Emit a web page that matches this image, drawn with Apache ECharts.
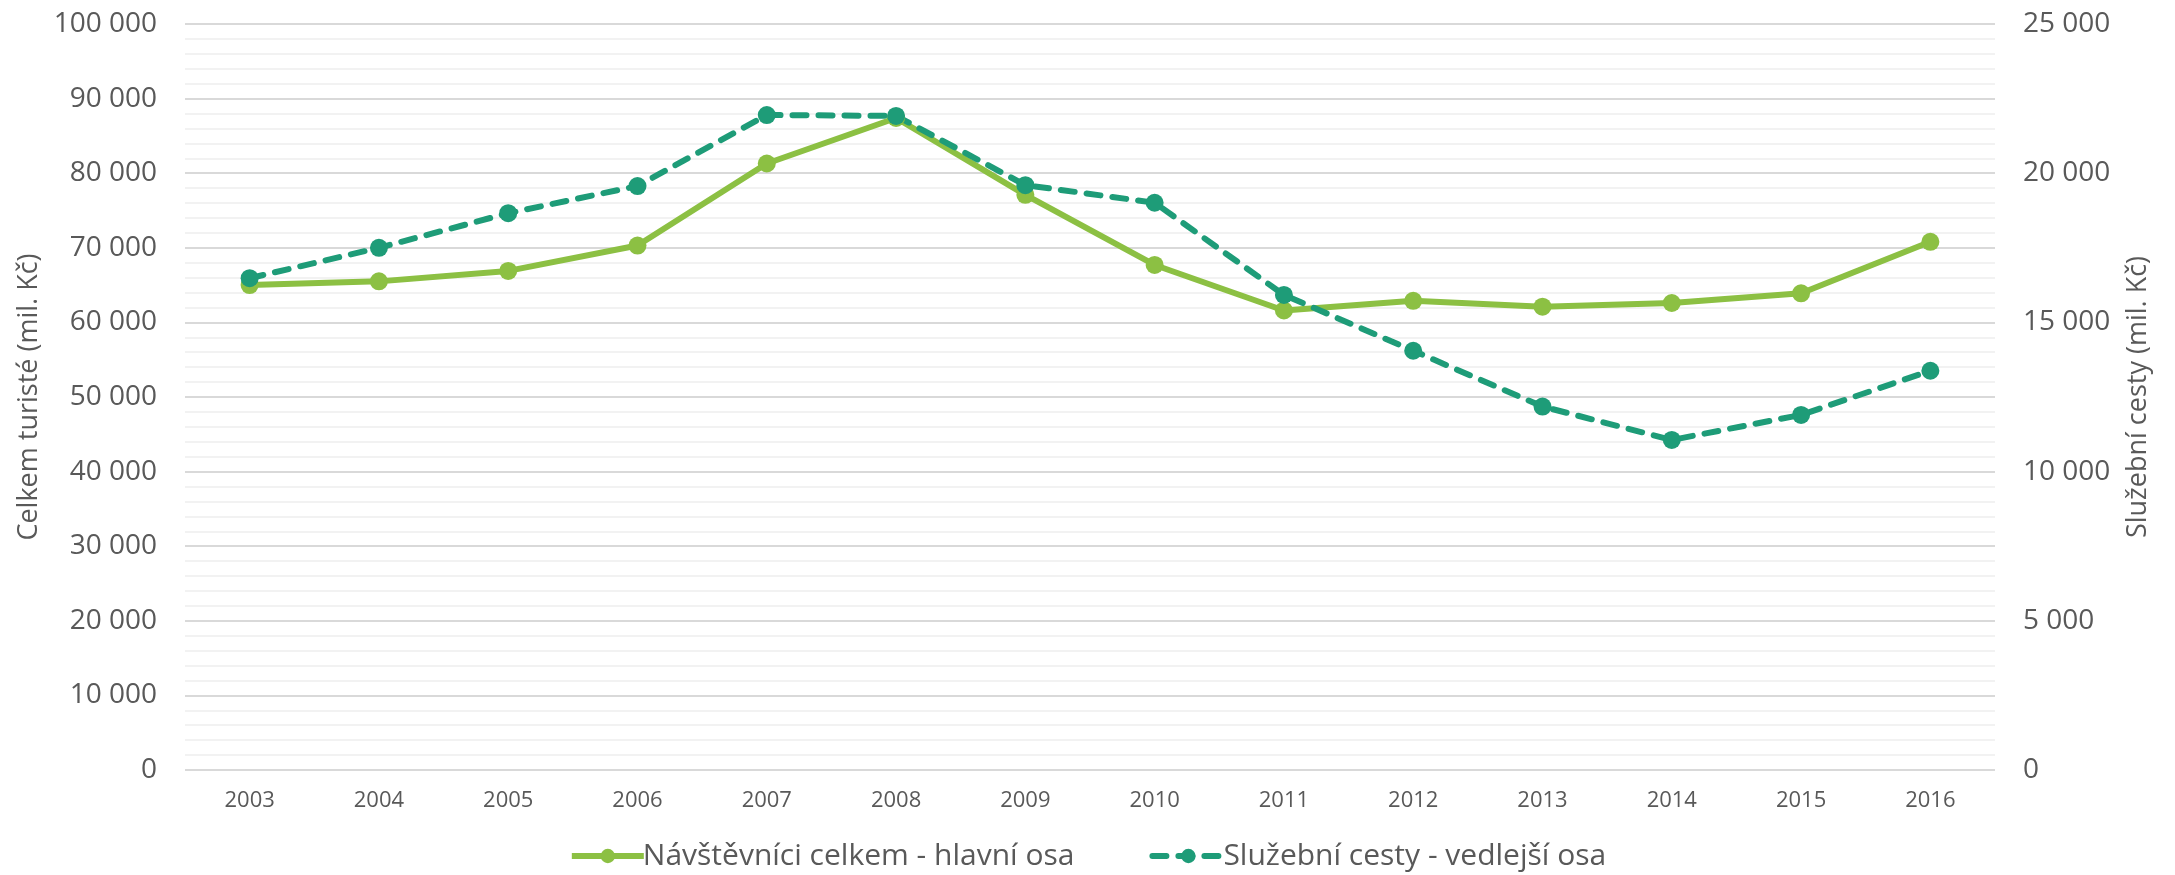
<!DOCTYPE html>
<html>
<head>
<meta charset="utf-8">
<script src="https://cdn.jsdelivr.net/npm/echarts@6/dist/echarts.min.js"></script>
<style>html,body{margin:0;padding:0;background:#fff}#c{width:2175px;height:875px}</style>
</head>
<body>
<div id="c"></div>
<script>
const years = ['2003','2004','2005','2006','2007','2008','2009','2010','2011','2012','2013','2014','2015','2016'];
const navstevnici = [65000, 65500, 66900, 70300, 81300, 87400, 77100, 67700, 61600, 62900, 62100, 62600, 63900, 70800];
const sluzebni = [16480, 17500, 18660, 19570, 21950, 21920, 19600, 19010, 15920, 14050, 12180, 11060, 11900, 13380];
const seriesNames = ['Návštěvníci celkem - hlavní osa', 'Služební cesty - vedlejší osa'];
const leftTitle = 'Celkem turisté (mil. Kč)';
const rightTitle = 'Služební cesty (mil. Kč)';

const fmt = v => String(v).replace(/\B(?=(\d{3})+(?!\d))/g, ' ');
const FONT = 'Open Sans';
const TXT = '#595959';
const chart = echarts.init(document.getElementById('c'));
chart.setOption({
  animation: false,
  textStyle: {fontFamily: FONT},
  grid: {left: 185, right: 180, top: 24, bottom: 105},
  legend: {
    top: 836, left: 'center', itemGap: 75, itemWidth: 72, itemHeight: 18,
    lineStyle: {width: 6},
    textStyle: {fontFamily: FONT, fontSize: 30, color: TXT, padding: [0,0,0,-6]},
    data: seriesNames
  },
  xAxis: {
    type: 'category', data: years, boundaryGap: true,
    axisLine: {show: false}, axisTick: {show: false},
    axisLabel: {fontFamily: FONT, fontSize: 22, color: TXT, margin: 20}
  },
  yAxis: [{
    type: 'value', min: 0, max: 100000, interval: 10000,
    name: leftTitle, nameLocation: 'middle', nameGap: 140,
    nameTextStyle: {fontFamily: FONT, fontSize: 27, color: TXT},
    axisLine: {show: false}, axisTick: {show: false},
    axisLabel: {fontFamily: FONT, fontSize: 28, color: TXT, margin: 28, formatter: fmt},
    splitLine: {show: true, lineStyle: {color: '#d9d9d9', width: 2}},
    minorTick: {show: false, splitNumber: 5},
    minorSplitLine: {show: true, lineStyle: {color: '#f2f2f2', width: 2}}
  }, {
    type: 'value', min: 0, max: 25000, interval: 5000, position: 'right',
    name: rightTitle, nameLocation: 'middle', nameGap: 130,
    nameTextStyle: {fontFamily: FONT, fontSize: 27, color: TXT},
    axisLine: {show: false}, axisTick: {show: false},
    axisLabel: {fontFamily: FONT, fontSize: 28, color: TXT, margin: 28, formatter: fmt},
    splitLine: {show: false}
  }],
  series: [{
    name: seriesNames[0], type: 'line', yAxisIndex: 0, data: navstevnici,
    symbol: 'circle', symbolSize: 18,
    lineStyle: {color: '#8CC043', width: 6},
    itemStyle: {color: '#8CC043'}
  }, {
    name: seriesNames[1], type: 'line', yAxisIndex: 1, data: sluzebni,
    symbol: 'circle', symbolSize: 18,
    lineStyle: {color: '#1E9C78', width: 6, type: [14, 12], cap: 'round'},
    itemStyle: {color: '#1E9C78'}
  }]
});
</script>
</body>
</html>
